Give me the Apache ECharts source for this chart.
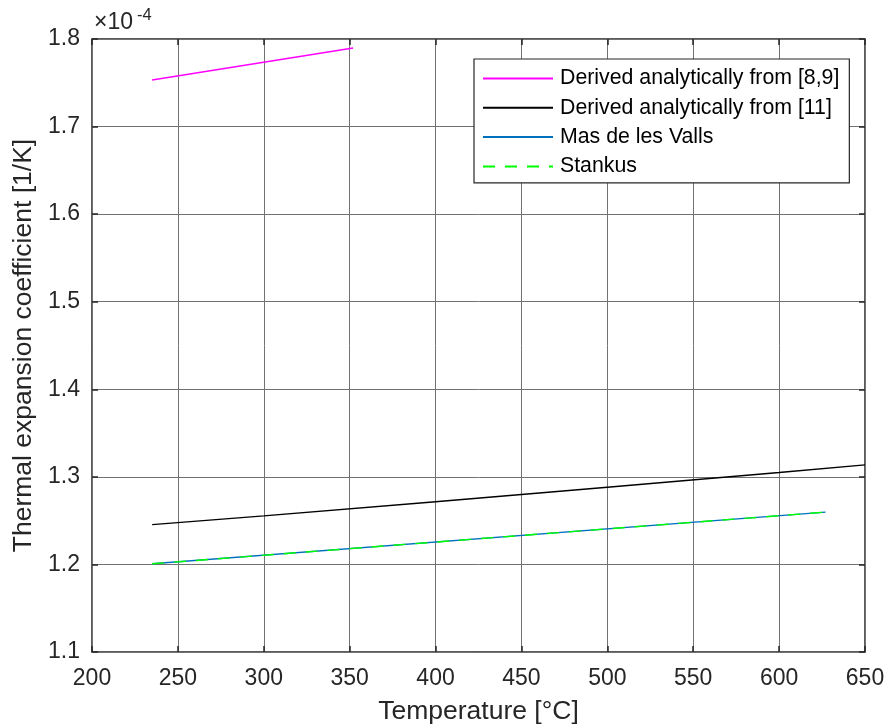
<!DOCTYPE html>
<html>
<head>
<meta charset="utf-8">
<script src="https://cdn.jsdelivr.net/npm/echarts@6/dist/echarts.min.js"></script>
<style>html,body{margin:0;padding:0;background:#fff}#c{width:888px;height:725px}</style>
</head>
<body>
<div id="c"></div>
<script>
// values in units of 1e-4 1/K
const seriesNames = ['Derived analytically from [8,9]', 'Derived analytically from [11]', 'Mas de les Valls', 'Stankus'];
const tempMag = [235, 352];
const valMag = [1.7532, 1.7897];
const tempBlack = [235, 300, 400, 500, 600, 650];
const valBlack = [1.2455, 1.2555, 1.2715, 1.2882, 1.3050, 1.3137];
const tempMas = [235, 627];
const valMas = [1.2007, 1.2597];
const tempStankus = [235, 627];
const valStankus = [1.2007, 1.2597];
const xTicks = [200, 250, 300, 350, 400, 450, 500, 550, 600, 650];
const yTicks = [1.1, 1.2, 1.3, 1.4, 1.5, 1.6, 1.7, 1.8];

const zip = (a, b) => a.map((v, i) => [v, b[i]]);
const FONT = 'Liberation Sans, Arial, sans-serif';
const TXT = '#262626';

const chart = echarts.init(document.getElementById('c'), null, {renderer: 'canvas'});
const splitLine = {show: true, lineStyle: {color: '#727272', width: 1}};
const tick = {show: true, inside: true, length: 6, lineStyle: {color: TXT, width: 1.5}};
const option = {
  animation: false,
  backgroundColor: '#ffffff',
  grid: {left: 92, top: 39, right: 23, bottom: 73, outerBoundsMode: 'none', containLabel: false,
         show: true, borderColor: TXT, borderWidth: 1.5, backgroundColor: 'transparent'},
  xAxis: [{
    type: 'value', min: xTicks[0], max: xTicks[xTicks.length - 1], interval: 50,
    axisLine: {show: false}, axisTick: tick,
    axisLabel: {fontSize: 23, color: TXT, fontFamily: FONT, margin: 15},
    splitLine: splitLine,
    name: 'Temperature [°C]', nameLocation: 'middle', nameGap: 46,
    nameTextStyle: {fontSize: 26.5, color: TXT, fontFamily: FONT}
  }, {
    type: 'value', position: 'top', min: xTicks[0], max: xTicks[xTicks.length - 1], interval: 50,
    axisLine: {show: false}, axisTick: tick,
    axisLabel: {show: false}, splitLine: {show: false}
  }],
  yAxis: [{
    type: 'value', min: yTicks[0], max: yTicks[yTicks.length - 1], interval: 0.1,
    axisLine: {show: false}, axisTick: tick,
    axisLabel: {fontSize: 23, color: TXT, fontFamily: FONT, margin: 12, formatter: v => v.toFixed(1)},
    splitLine: splitLine,
    name: 'Thermal expansion coefficient [1/K]', nameLocation: 'middle', nameGap: 55,
    nameTextStyle: {fontSize: 26.5, color: TXT, fontFamily: FONT}
  }, {
    type: 'value', position: 'right', min: yTicks[0], max: yTicks[yTicks.length - 1], interval: 0.1,
    axisLine: {show: false}, axisTick: tick,
    axisLabel: {show: false}, splitLine: {show: false}
  }],
  legend: {
    orient: 'vertical', left: 474, top: 59,
    padding: [9, 10, 6, 8], itemGap: 8.3, itemWidth: 70, itemHeight: 21,
    backgroundColor: '#ffffff', borderColor: TXT, borderWidth: 1.2,
    itemStyle: {opacity: 0},
    textStyle: {fontSize: 21.3, color: '#000', fontFamily: FONT, width: 279, padding: [0, 0, 0, 2]},
    data: seriesNames.map(n => ({name: n}))
  },
  graphic: [
    {type: 'text', left: 94, top: 11, style: {text: '×10', fontSize: 23, fill: TXT, fontFamily: FONT}},
    {type: 'text', left: 137, top: 7, style: {text: '-4', fontSize: 16.5, fill: TXT, fontFamily: FONT}}
  ],
  series: [
    {name: seriesNames[0], type: 'line', data: zip(tempMag, valMag), showSymbol: false, symbol: 'none', lineStyle: {color: '#ff00ff', width: 1.4}, itemStyle: {color: '#ff00ff'}},
    {name: seriesNames[1], type: 'line', data: zip(tempBlack, valBlack), showSymbol: false, symbol: 'none', lineStyle: {color: '#000000', width: 1.4}, itemStyle: {color: '#000000'}},
    {name: seriesNames[2], type: 'line', data: zip(tempMas, valMas), showSymbol: false, symbol: 'none', lineStyle: {color: '#0072bd', width: 1.4}, itemStyle: {color: '#0072bd'}},
    {name: seriesNames[3], type: 'line', data: zip(tempStankus, valStankus), showSymbol: false, symbol: 'none', lineStyle: {color: '#00ff00', width: 1.4, type: [12, 10]}, itemStyle: {color: '#00ff00'}}
  ]
};
chart.setOption(option);
</script>
</body>
</html>
